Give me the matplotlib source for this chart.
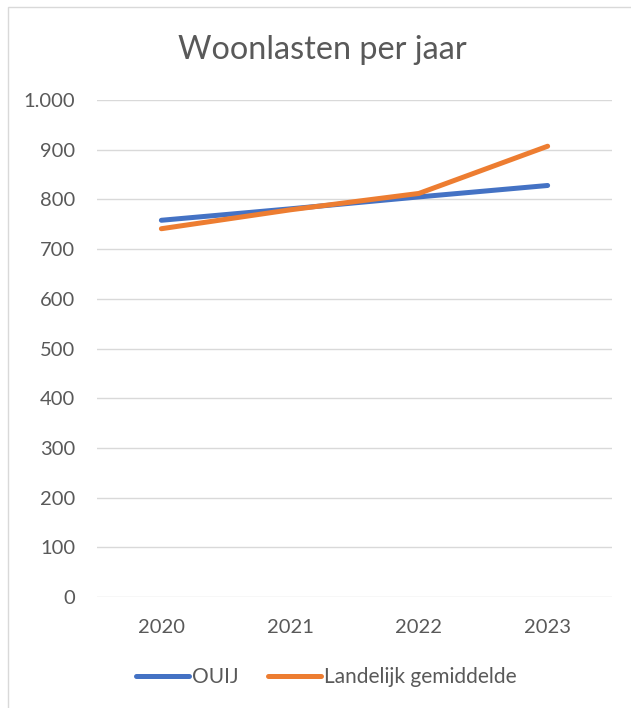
import matplotlib
matplotlib.use("Agg")
import matplotlib.pyplot as plt
from matplotlib.patches import Rectangle
from matplotlib.ticker import FuncFormatter

years = ["2020", "2021", "2022", "2023"]
ouij = [758, 781, 805, 828]
landelijk = [741, 779, 812, 907]
series_names = ["OUIJ", "Landelijk gemiddelde"]
title = "Woonlasten per jaar"

plt.rcParams['font.family'] = ['Lato', 'DejaVu Sans']
txt = '#595959'

W, H = 631, 708
fig = plt.figure(figsize=(W/100, H/100), dpi=100)
ax = fig.add_axes([97/W, 1-597/H, (612-97)/W, (597-100)/H])

x = range(len(years))
l1, = ax.plot(x, ouij, color='#4472C4', lw=3.6, solid_capstyle='round', label=series_names[0], zorder=3)
l2, = ax.plot(x, landelijk, color='#ED7D31', lw=3.6, solid_capstyle='round', label=series_names[1], zorder=3)

ax.set_xlim(-0.5, 3.5)
ax.set_ylim(0, 1000)
ax.set_yticks(range(0, 1001, 100))
ax.yaxis.set_major_formatter(FuncFormatter(lambda v, p: f"{int(v):,}".replace(",", ".")))
ax.set_xticks(list(x))
ax.set_xticklabels(years)
ax.grid(axis='y', color='#d9d9d9', lw=1)
ax.set_axisbelow(True)
for s in ax.spines.values():
    s.set_visible(False)
ax.tick_params(length=0, colors=txt, labelsize=14.5)
ax.tick_params(axis='y', pad=15.5)
ax.tick_params(axis='x', pad=15.5)

fig.text(322/W, 1-50/H, title, ha='center', va='center', fontsize=23.3, color=txt)

fig.legend(handles=[l1, l2], loc='center', bbox_to_anchor=(326/W, 1-677/H), ncol=2,
           frameon=False, fontsize=15, labelcolor=txt, handlelength=2.55, handletextpad=0.15,
           columnspacing=1.4)

fig.patches.append(Rectangle((8/W, -0.1), 1.2, 1-7/H+0.1, transform=fig.transFigure,
                             fill=False, edgecolor='#d9d9d9', lw=1))

fig.savefig("out.png", dpi=100)
